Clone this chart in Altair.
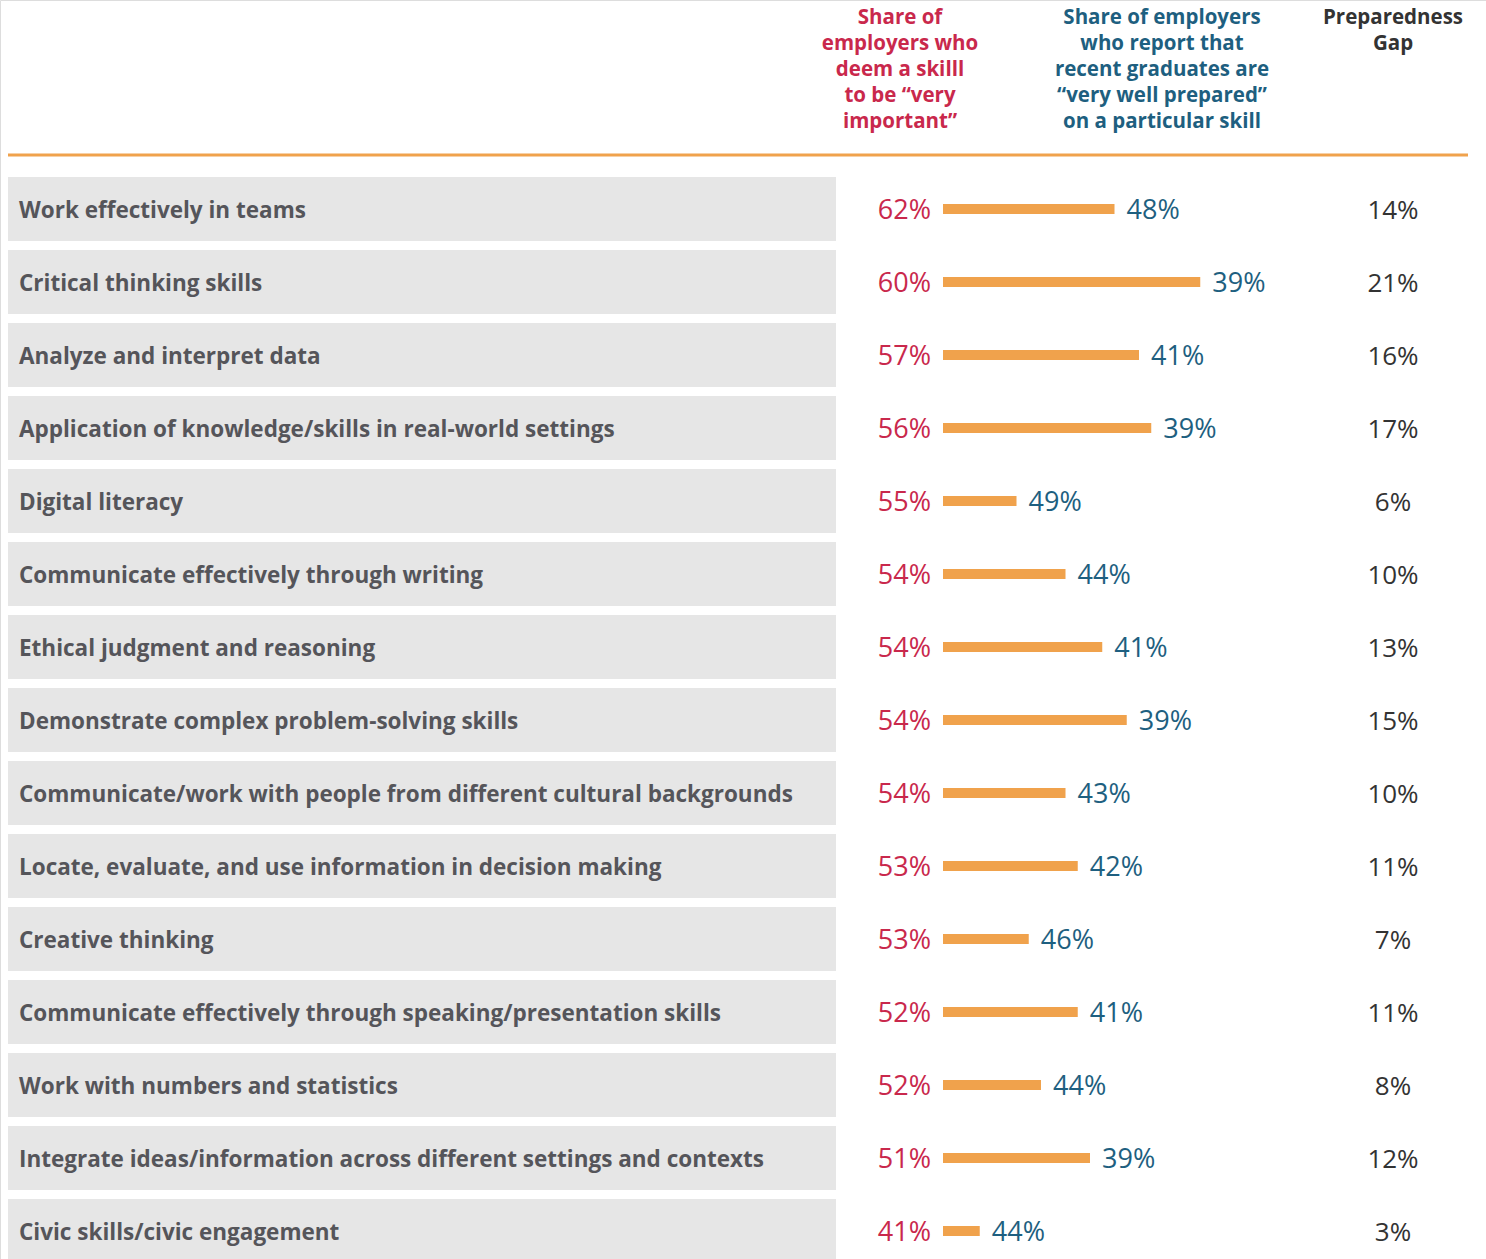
import altair as alt
import pandas as pd

skills = [
    "Work effectively in teams",
    "Critical thinking skills",
    "Analyze and interpret data",
    "Application of knowledge/skills in real-world settings",
    "Digital literacy",
    "Communicate effectively through writing",
    "Ethical judgment and reasoning",
    "Demonstrate complex problem-solving skills",
    "Communicate/work with people from different cultural backgrounds",
    "Locate, evaluate, and use information in decision making",
    "Creative thinking",
    "Communicate effectively through speaking/presentation skills",
    "Work with numbers and statistics",
    "Integrate ideas/information across different settings and contexts",
    "Civic skills/civic engagement",
]
important = [62, 60, 57, 56, 55, 54, 54, 54, 54, 53, 53, 52, 52, 51, 41]
prepared = [48, 39, 41, 39, 49, 44, 41, 39, 43, 42, 46, 41, 44, 39, 44]
gap = [14, 21, 16, 17, 6, 10, 13, 15, 10, 11, 7, 11, 8, 12, 3]

header_important = ["Share of", "employers who", "deem a skilll", "to be \u201cvery", "important\u201d"]
header_prepared = ["Share of employers", "who report that", "recent graduates are",
                   "\u201cvery well prepared\u201d", "on a particular skill"]
header_gap = ["Preparedness", "Gap"]

RED = "#c9284c"
BLUE = "#1e5f80"
ORANGE = "#f0a24c"
GRAY_BG = "#e6e6e6"
LABEL = "#55555a"
DARK = "#333333"

df = pd.DataFrame({
    "skill": skills,
    "important": important,
    "prepared": prepared,
    "gap": gap,
})
df["zero"] = 0
df["imp_txt"] = df["important"].astype(str) + "%"
df["prep_txt"] = df["prepared"].astype(str) + "%"
df["gap_txt"] = df["gap"].astype(str) + "%"

hdr = pd.DataFrame({"k": [0]})

# x scale: gap units; pixel = 943 + 12.25 * gap
x_scale = alt.Scale(domain=[-943 / 12.25, (1486 - 943) / 12.25], range=[0, 1486], nice=False, zero=False)
y_scale = alt.Scale(domain=skills, range=[172.5, 1267.5], paddingInner=9 / 73, paddingOuter=4.5 / 73)

base = alt.Chart(df)
Y = alt.Y("skill:N", scale=y_scale, axis=None, sort=skills)

boxes = base.mark_rect(color=GRAY_BG).encode(
    y=Y, x=alt.value(8), x2=alt.value(836)
)
labels = base.mark_text(
    align="left", baseline="middle", dy=2, font="Open Sans", fontWeight="bold",
    fontSize=22.5, color=LABEL
).encode(y=Y, x=alt.value(19), text="skill:N")

bars = base.mark_rule(color=ORANGE, strokeWidth=10, strokeCap="butt").encode(
    y=Y,
    x=alt.X("zero:Q", scale=x_scale, axis=None),
    x2="gap:Q",
)
imp_text = base.mark_text(
    align="right", baseline="middle", dx=-12, dy=2, font="Open Sans", fontSize=27, color=RED
).encode(y=Y, x=alt.X("zero:Q", scale=x_scale, axis=None), text="imp_txt:N")
prep_text = base.mark_text(
    align="left", baseline="middle", dx=12, dy=2, font="Open Sans", fontSize=27, color=BLUE
).encode(y=Y, x=alt.X("gap:Q", scale=x_scale, axis=None), text="prep_txt:N")
gap_text = base.mark_text(
    align="center", baseline="middle", dy=2, font="Open Sans", fontSize=26, color=DARK
).encode(y=Y, x=alt.value(1393), text="gap_txt:N")

hbase = alt.Chart(hdr)
hstyle = dict(align="center", baseline="top", lineHeight=26,
              font="Open Sans", fontWeight="bold", fontSize=20.5)
h1 = hbase.mark_text(text=header_important, color=RED, **hstyle).encode(
    x=alt.value(900), y=alt.value(8))
h2 = hbase.mark_text(text=header_prepared, color=BLUE, **hstyle).encode(
    x=alt.value(1162), y=alt.value(8))
h3 = hbase.mark_text(text=header_gap, color=DARK, **hstyle).encode(
    x=alt.value(1393), y=alt.value(8))
rule = hbase.mark_rule(color=ORANGE, strokeWidth=3).encode(
    x=alt.value(8), x2=alt.value(1468), y=alt.value(155)
)

chart = alt.layer(
    boxes, labels, bars, imp_text, prep_text, gap_text, h1, h2, h3, rule
).properties(
    width=1486, height=1259, autosize=alt.AutoSizeParams(type="none"), padding=0
).configure_view(stroke=None).configure(background="white")

chart.save("out.html", embed_options={"renderer": "svg", "actions": False})
